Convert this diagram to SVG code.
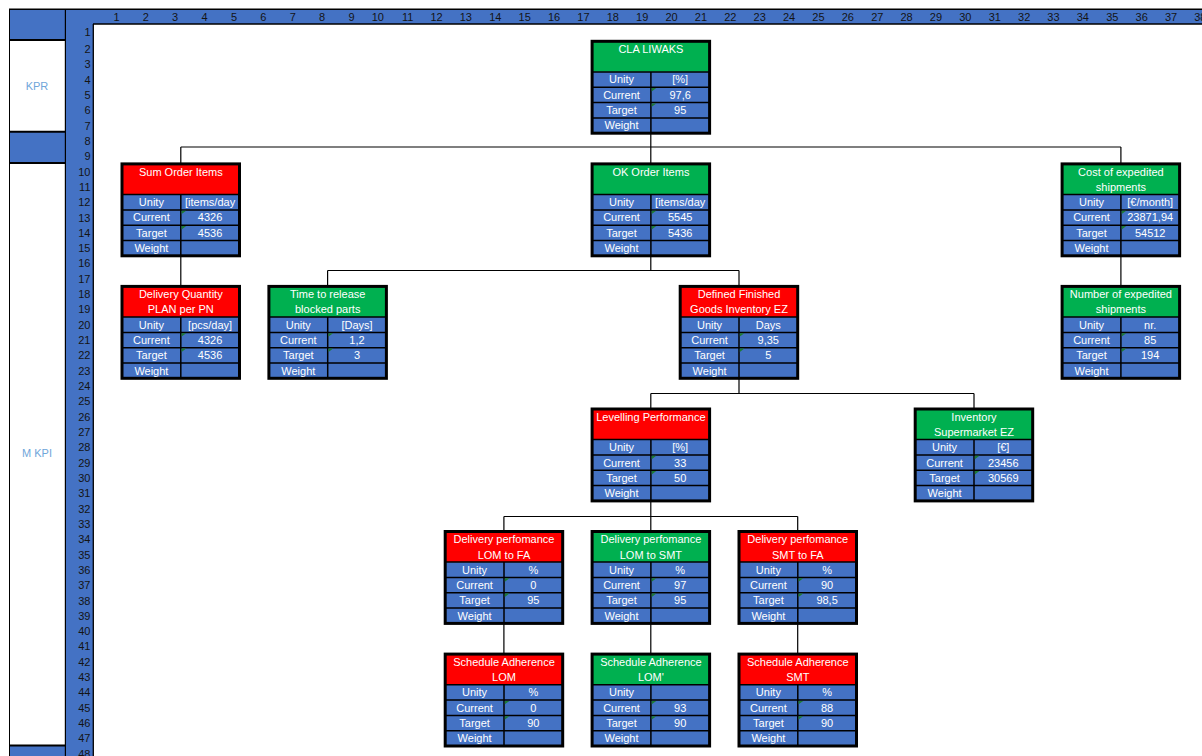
<svg xmlns="http://www.w3.org/2000/svg" xmlns:xlink="http://www.w3.org/1999/xlink" width="1202" height="756" viewBox="0 0 1202 756">
  <style>
    text { font-family: "Liberation Sans", Arial, sans-serif; font-size: 11px; }
    .num { fill: #141414; text-anchor: end; }
    .side { fill: #6FA6DA; text-anchor: middle; }
    .w { fill: #FFFFFF; text-anchor: middle; }
    .blue { fill: #4472C4; }
    .ok { fill: #00B050; }
    .bad { fill: #FF0000; }
    .grid { stroke: #000000; stroke-width: 1.5; fill: none; }
    .frame { stroke: #000000; stroke-width: 3; fill: none; }
    .tri { fill: #1E7B34; }
    .wire { stroke: #000000; stroke-width: 1.2; fill: none; }
    .rule { stroke: #000000; fill: none; }
  </style>

  <defs>
    <!-- data part of a KPI card: blue cells, cell lines, indicator marks, outline -->
    <g id="card-body">
      <rect class="blue" x="0" y="30.6" width="117.5" height="61.3"/>
      <path class="grid" d="M0 30.6H117.5M0 46H117.5M0 61.3H117.5M0 76.6H117.5M58.8 30.6V91.9"/>
      <path class="tri" d="M59.6 46.8h4.6l-4.6 3.4zM59.6 62.1h4.6l-4.6 3.4z"/>
      <rect class="frame" x="0" y="0" width="117.5" height="91.9"/>
    </g>
  </defs>

  <!-- sheet background -->
  <rect x="0" y="0" width="1202" height="756" fill="#FFFFFF"/>

  <!-- side panel -->
  <g id="side-panel">
    <rect class="blue" x="9" y="9" width="57" height="31"/>
    <rect class="blue" x="9" y="132" width="57" height="31"/>
    <rect class="blue" x="9" y="745" width="57" height="11"/>
    <path class="rule" stroke-width="2" d="M9 40H66M9 131.8H66M9 163H66M9 745.5H66M65.8 9V756"/>
    <path class="rule" stroke-width="1" d="M9.5 9V756"/>
    <text class="side" x="37" y="90">KPR</text>
    <text class="side" x="37" y="457">M KPI</text>
  </g>

  <!-- column and row headers -->
  <g id="headers">
    <rect class="blue" x="66" y="9" width="1136" height="15"/>
    <rect class="blue" x="66" y="9" width="27" height="747"/>
    <path class="rule" stroke-width="1.5" d="M9 9.3H1202"/>
    <path class="rule" stroke-width="1.3" d="M93 24H1202M93.3 24V756"/>
    <g id="col-numbers">
      <text class="num" x="119.5" y="21">1</text>
      <text class="num" x="148.9" y="21">2</text>
      <text class="num" x="178.2" y="21">3</text>
      <text class="num" x="207.6" y="21">4</text>
      <text class="num" x="237.0" y="21">5</text>
      <text class="num" x="266.4" y="21">6</text>
      <text class="num" x="295.8" y="21">7</text>
      <text class="num" x="325.1" y="21">8</text>
      <text class="num" x="354.5" y="21">9</text>
      <text class="num" x="383.9" y="21">10</text>
      <text class="num" x="413.3" y="21">11</text>
      <text class="num" x="442.7" y="21">12</text>
      <text class="num" x="472.0" y="21">13</text>
      <text class="num" x="501.4" y="21">14</text>
      <text class="num" x="530.8" y="21">15</text>
      <text class="num" x="560.2" y="21">16</text>
      <text class="num" x="589.6" y="21">17</text>
      <text class="num" x="618.9" y="21">18</text>
      <text class="num" x="648.3" y="21">19</text>
      <text class="num" x="677.7" y="21">20</text>
      <text class="num" x="707.1" y="21">21</text>
      <text class="num" x="736.5" y="21">22</text>
      <text class="num" x="765.8" y="21">23</text>
      <text class="num" x="795.2" y="21">24</text>
      <text class="num" x="824.6" y="21">25</text>
      <text class="num" x="854.0" y="21">26</text>
      <text class="num" x="883.4" y="21">27</text>
      <text class="num" x="912.7" y="21">28</text>
      <text class="num" x="942.1" y="21">29</text>
      <text class="num" x="971.5" y="21">30</text>
      <text class="num" x="1000.9" y="21">31</text>
      <text class="num" x="1030.3" y="21">32</text>
      <text class="num" x="1059.6" y="21">33</text>
      <text class="num" x="1089.0" y="21">34</text>
      <text class="num" x="1118.4" y="21">35</text>
      <text class="num" x="1147.8" y="21">36</text>
      <text class="num" x="1177.2" y="21">37</text>
      <text class="num" x="1206.5" y="21">38</text>
    </g>
    <g id="row-numbers">
      <text class="num" x="90.5" y="36.3">1</text>
      <text class="num" x="90.5" y="53.0">2</text>
      <text class="num" x="90.5" y="68.3">3</text>
      <text class="num" x="90.5" y="83.6">4</text>
      <text class="num" x="90.5" y="98.9">5</text>
      <text class="num" x="90.5" y="114.2">6</text>
      <text class="num" x="90.5" y="129.6">7</text>
      <text class="num" x="90.5" y="144.9">8</text>
      <text class="num" x="90.5" y="160.2">9</text>
      <text class="num" x="90.5" y="175.5">10</text>
      <text class="num" x="90.5" y="190.8">11</text>
      <text class="num" x="90.5" y="206.2">12</text>
      <text class="num" x="90.5" y="221.5">13</text>
      <text class="num" x="90.5" y="236.8">14</text>
      <text class="num" x="90.5" y="252.1">15</text>
      <text class="num" x="90.5" y="267.4">16</text>
      <text class="num" x="90.5" y="282.8">17</text>
      <text class="num" x="90.5" y="298.1">18</text>
      <text class="num" x="90.5" y="313.4">19</text>
      <text class="num" x="90.5" y="328.7">20</text>
      <text class="num" x="90.5" y="344.0">21</text>
      <text class="num" x="90.5" y="359.4">22</text>
      <text class="num" x="90.5" y="374.7">23</text>
      <text class="num" x="90.5" y="390.0">24</text>
      <text class="num" x="90.5" y="405.3">25</text>
      <text class="num" x="90.5" y="420.6">26</text>
      <text class="num" x="90.5" y="436.0">27</text>
      <text class="num" x="90.5" y="451.3">28</text>
      <text class="num" x="90.5" y="466.6">29</text>
      <text class="num" x="90.5" y="481.9">30</text>
      <text class="num" x="90.5" y="497.2">31</text>
      <text class="num" x="90.5" y="512.6">32</text>
      <text class="num" x="90.5" y="527.9">33</text>
      <text class="num" x="90.5" y="543.2">34</text>
      <text class="num" x="90.5" y="558.5">35</text>
      <text class="num" x="90.5" y="573.8">36</text>
      <text class="num" x="90.5" y="589.2">37</text>
      <text class="num" x="90.5" y="604.5">38</text>
      <text class="num" x="90.5" y="619.8">39</text>
      <text class="num" x="90.5" y="635.1">40</text>
      <text class="num" x="90.5" y="650.4">41</text>
      <text class="num" x="90.5" y="665.8">42</text>
      <text class="num" x="90.5" y="681.1">43</text>
      <text class="num" x="90.5" y="696.4">44</text>
      <text class="num" x="90.5" y="711.7">45</text>
      <text class="num" x="90.5" y="727.0">46</text>
      <text class="num" x="90.5" y="742.4">47</text>
      <text class="num" x="90.5" y="757.7">48</text>
    </g>
  </g>

  <!-- tree connectors -->
  <g id="connectors">
    <path class="wire" d="M650.8 133.2V147M180.8 147H1120.9M180.8 147V163.9M650.8 147V163.9M1120.9 147V163.9"/>
    <path class="wire" d="M180.8 255.8V286.4"/>
    <path class="wire" d="M1120.9 255.8V286.4"/>
    <path class="wire" d="M650.8 255.8V270.5M327.6 270.5H739M327.6 270.5V286.4M739 270.5V286.4"/>
    <path class="wire" d="M739 378.3V393.5M650.8 393.5H974M650.8 393.5V409M974 393.5V409"/>
    <path class="wire" d="M650.8 500.9V516.5M503.9 516.5H797.7M503.9 516.5V531.5M650.8 516.5V531.5M797.7 516.5V531.5"/>
    <path class="wire" d="M503.9 623.5V654.1M650.8 623.5V654.1M797.7 623.5V654.1"/>
  </g>

  <!-- KPI cards -->
  <g id="n-cla-liwaks" transform="translate(592.1,41.3)">
    <rect class="ok" width="117.5" height="30.6"/>
    <use xlink:href="#card-body"/>
    <text class="w" x="58.8" y="11.7">CLA LIWAKS</text>
    <text class="w" x="29.4" y="42.2">Unity</text><text class="w" x="88.1" y="42.2">[%]</text>
    <text class="w" x="29.4" y="57.6">Current</text><text class="w" x="88.1" y="57.6">97,6</text>
    <text class="w" x="29.4" y="72.9">Target</text><text class="w" x="88.1" y="72.9">95</text>
    <text class="w" x="29.4" y="88.2">Weight</text>
  </g>

  <g id="n-sum-order-items" transform="translate(122,163.9)">
    <rect class="bad" width="117.5" height="30.6"/>
    <use xlink:href="#card-body"/>
    <text class="w" x="58.8" y="11.7">Sum Order Items</text>
    <text class="w" x="29.4" y="42.2">Unity</text><text class="w" x="88.1" y="42.2">[items/day</text>
    <text class="w" x="29.4" y="57.6">Current</text><text class="w" x="88.1" y="57.6">4326</text>
    <text class="w" x="29.4" y="72.9">Target</text><text class="w" x="88.1" y="72.9">4536</text>
    <text class="w" x="29.4" y="88.2">Weight</text>
  </g>

  <g id="n-ok-order-items" transform="translate(592.1,163.9)">
    <rect class="ok" width="117.5" height="30.6"/>
    <use xlink:href="#card-body"/>
    <text class="w" x="58.8" y="11.7">OK Order Items</text>
    <text class="w" x="29.4" y="42.2">Unity</text><text class="w" x="88.1" y="42.2">[items/day</text>
    <text class="w" x="29.4" y="57.6">Current</text><text class="w" x="88.1" y="57.6">5545</text>
    <text class="w" x="29.4" y="72.9">Target</text><text class="w" x="88.1" y="72.9">5436</text>
    <text class="w" x="29.4" y="88.2">Weight</text>
  </g>

  <g id="n-cost-expedited" transform="translate(1062.1,163.9)">
    <rect class="ok" width="117.5" height="30.6"/>
    <use xlink:href="#card-body"/>
    <text class="w" x="58.8" y="11.7">Cost of expedited</text>
    <text class="w" x="58.8" y="27">shipments</text>
    <text class="w" x="29.4" y="42.2">Unity</text><text class="w" x="88.1" y="42.2">[€/month]</text>
    <text class="w" x="29.4" y="57.6">Current</text><text class="w" x="88.1" y="57.6">23871,94</text>
    <text class="w" x="29.4" y="72.9">Target</text><text class="w" x="88.1" y="72.9">54512</text>
    <text class="w" x="29.4" y="88.2">Weight</text>
  </g>

  <g id="n-delivery-quantity" transform="translate(122,286.4)">
    <rect class="bad" width="117.5" height="30.6"/>
    <use xlink:href="#card-body"/>
    <text class="w" x="58.8" y="11.7">Delivery Quantity</text>
    <text class="w" x="58.8" y="27">PLAN per PN</text>
    <text class="w" x="29.4" y="42.2">Unity</text><text class="w" x="88.1" y="42.2">[pcs/day]</text>
    <text class="w" x="29.4" y="57.6">Current</text><text class="w" x="88.1" y="57.6">4326</text>
    <text class="w" x="29.4" y="72.9">Target</text><text class="w" x="88.1" y="72.9">4536</text>
    <text class="w" x="29.4" y="88.2">Weight</text>
  </g>

  <g id="n-time-to-release" transform="translate(268.9,286.4)">
    <rect class="ok" width="117.5" height="30.6"/>
    <use xlink:href="#card-body"/>
    <text class="w" x="58.8" y="11.7">Time to release</text>
    <text class="w" x="58.8" y="27">blocked parts</text>
    <text class="w" x="29.4" y="42.2">Unity</text><text class="w" x="88.1" y="42.2">[Days]</text>
    <text class="w" x="29.4" y="57.6">Current</text><text class="w" x="88.1" y="57.6">1,2</text>
    <text class="w" x="29.4" y="72.9">Target</text><text class="w" x="88.1" y="72.9">3</text>
    <text class="w" x="29.4" y="88.2">Weight</text>
  </g>

  <g id="n-finished-goods" transform="translate(680.2,286.4)">
    <rect class="bad" width="117.5" height="30.6"/>
    <use xlink:href="#card-body"/>
    <text class="w" x="58.8" y="11.7">Defined Finished</text>
    <text class="w" x="58.8" y="27">Goods Inventory EZ</text>
    <text class="w" x="29.4" y="42.2">Unity</text><text class="w" x="88.1" y="42.2">Days</text>
    <text class="w" x="29.4" y="57.6">Current</text><text class="w" x="88.1" y="57.6">9,35</text>
    <text class="w" x="29.4" y="72.9">Target</text><text class="w" x="88.1" y="72.9">5</text>
    <text class="w" x="29.4" y="88.2">Weight</text>
  </g>

  <g id="n-number-expedited" transform="translate(1062.1,286.4)">
    <rect class="ok" width="117.5" height="30.6"/>
    <use xlink:href="#card-body"/>
    <text class="w" x="58.8" y="11.7">Number of expedited</text>
    <text class="w" x="58.8" y="27">shipments</text>
    <text class="w" x="29.4" y="42.2">Unity</text><text class="w" x="88.1" y="42.2">nr.</text>
    <text class="w" x="29.4" y="57.6">Current</text><text class="w" x="88.1" y="57.6">85</text>
    <text class="w" x="29.4" y="72.9">Target</text><text class="w" x="88.1" y="72.9">194</text>
    <text class="w" x="29.4" y="88.2">Weight</text>
  </g>

  <g id="n-levelling" transform="translate(592.1,409)">
    <rect class="bad" width="117.5" height="30.6"/>
    <use xlink:href="#card-body"/>
    <text class="w" x="58.8" y="11.7">Levelling Performance</text>
    <text class="w" x="29.4" y="42.2">Unity</text><text class="w" x="88.1" y="42.2">[%]</text>
    <text class="w" x="29.4" y="57.6">Current</text><text class="w" x="88.1" y="57.6">33</text>
    <text class="w" x="29.4" y="72.9">Target</text><text class="w" x="88.1" y="72.9">50</text>
    <text class="w" x="29.4" y="88.2">Weight</text>
  </g>

  <g id="n-inventory-supermarket" transform="translate(915.2,409)">
    <rect class="ok" width="117.5" height="30.6"/>
    <use xlink:href="#card-body"/>
    <text class="w" x="58.8" y="11.7">Inventory</text>
    <text class="w" x="58.8" y="27">Supermarket EZ</text>
    <text class="w" x="29.4" y="42.2">Unity</text><text class="w" x="88.1" y="42.2">[€]</text>
    <text class="w" x="29.4" y="57.6">Current</text><text class="w" x="88.1" y="57.6">23456</text>
    <text class="w" x="29.4" y="72.9">Target</text><text class="w" x="88.1" y="72.9">30569</text>
    <text class="w" x="29.4" y="88.2">Weight</text>
  </g>

  <g id="n-delivery-lom-fa" transform="translate(445.2,531.5)">
    <rect class="bad" width="117.5" height="30.6"/>
    <use xlink:href="#card-body"/>
    <text class="w" x="58.8" y="11.7">Delivery perfomance</text>
    <text class="w" x="58.8" y="27">LOM to FA</text>
    <text class="w" x="29.4" y="42.2">Unity</text><text class="w" x="88.1" y="42.2">%</text>
    <text class="w" x="29.4" y="57.6">Current</text><text class="w" x="88.1" y="57.6">0</text>
    <text class="w" x="29.4" y="72.9">Target</text><text class="w" x="88.1" y="72.9">95</text>
    <text class="w" x="29.4" y="88.2">Weight</text>
  </g>

  <g id="n-delivery-lom-smt" transform="translate(592.1,531.5)">
    <rect class="ok" width="117.5" height="30.6"/>
    <use xlink:href="#card-body"/>
    <text class="w" x="58.8" y="11.7">Delivery perfomance</text>
    <text class="w" x="58.8" y="27">LOM to SMT</text>
    <text class="w" x="29.4" y="42.2">Unity</text><text class="w" x="88.1" y="42.2">%</text>
    <text class="w" x="29.4" y="57.6">Current</text><text class="w" x="88.1" y="57.6">97</text>
    <text class="w" x="29.4" y="72.9">Target</text><text class="w" x="88.1" y="72.9">95</text>
    <text class="w" x="29.4" y="88.2">Weight</text>
  </g>

  <g id="n-delivery-smt-fa" transform="translate(739,531.5)">
    <rect class="bad" width="117.5" height="30.6"/>
    <use xlink:href="#card-body"/>
    <text class="w" x="58.8" y="11.7">Delivery perfomance</text>
    <text class="w" x="58.8" y="27">SMT to FA</text>
    <text class="w" x="29.4" y="42.2">Unity</text><text class="w" x="88.1" y="42.2">%</text>
    <text class="w" x="29.4" y="57.6">Current</text><text class="w" x="88.1" y="57.6">90</text>
    <text class="w" x="29.4" y="72.9">Target</text><text class="w" x="88.1" y="72.9">98,5</text>
    <text class="w" x="29.4" y="88.2">Weight</text>
  </g>

  <g id="n-schedule-lom" transform="translate(445.2,654.1)">
    <rect class="bad" width="117.5" height="30.6"/>
    <use xlink:href="#card-body"/>
    <text class="w" x="58.8" y="11.7">Schedule Adherence</text>
    <text class="w" x="58.8" y="27">LOM</text>
    <text class="w" x="29.4" y="42.2">Unity</text><text class="w" x="88.1" y="42.2">%</text>
    <text class="w" x="29.4" y="57.6">Current</text><text class="w" x="88.1" y="57.6">0</text>
    <text class="w" x="29.4" y="72.9">Target</text><text class="w" x="88.1" y="72.9">90</text>
    <text class="w" x="29.4" y="88.2">Weight</text>
  </g>

  <g id="n-schedule-lom-prime" transform="translate(592.1,654.1)">
    <rect class="ok" width="117.5" height="30.6"/>
    <use xlink:href="#card-body"/>
    <text class="w" x="58.8" y="11.7">Schedule Adherence</text>
    <text class="w" x="58.8" y="27">LOM'</text>
    <text class="w" x="29.4" y="42.2">Unity</text>
    <text class="w" x="29.4" y="57.6">Current</text><text class="w" x="88.1" y="57.6">93</text>
    <text class="w" x="29.4" y="72.9">Target</text><text class="w" x="88.1" y="72.9">90</text>
    <text class="w" x="29.4" y="88.2">Weight</text>
  </g>

  <g id="n-schedule-smt" transform="translate(739,654.1)">
    <rect class="bad" width="117.5" height="30.6"/>
    <use xlink:href="#card-body"/>
    <text class="w" x="58.8" y="11.7">Schedule Adherence</text>
    <text class="w" x="58.8" y="27">SMT</text>
    <text class="w" x="29.4" y="42.2">Unity</text><text class="w" x="88.1" y="42.2">%</text>
    <text class="w" x="29.4" y="57.6">Current</text><text class="w" x="88.1" y="57.6">88</text>
    <text class="w" x="29.4" y="72.9">Target</text><text class="w" x="88.1" y="72.9">90</text>
    <text class="w" x="29.4" y="88.2">Weight</text>
  </g>
</svg>
